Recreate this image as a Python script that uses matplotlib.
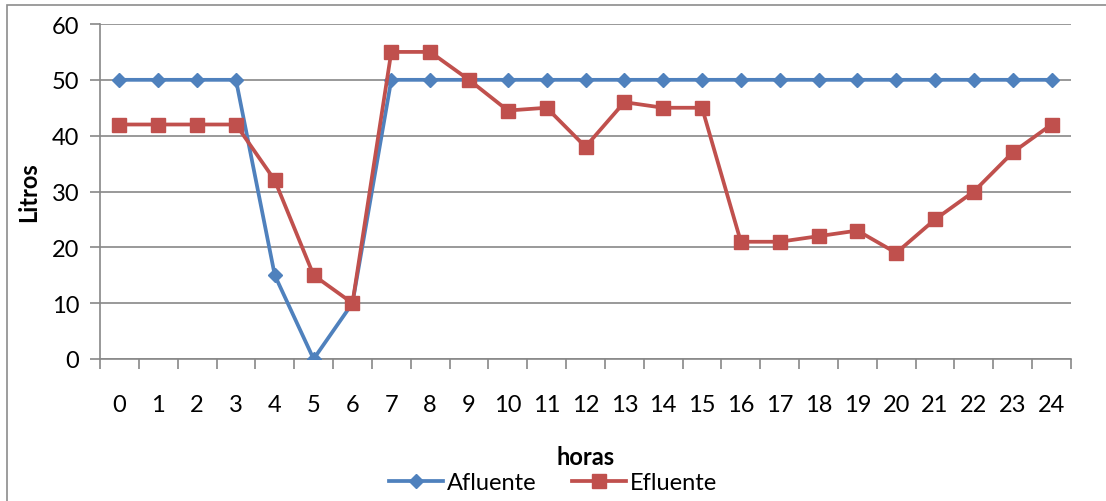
import matplotlib.pyplot as plt
import matplotlib.patches as mpatches
import numpy as np

plt.rcParams['font.family'] = ['Lato', 'DejaVu Sans']

horas = [str(h) for h in range(25)]
afluente = [50, 50, 50, 50, 15, 0, 10, 50, 50, 50, 50, 50, 50,
            50, 50, 50, 50, 50, 50, 50, 50, 50, 50, 50, 50]
efluente = [42, 42, 42, 42, 32, 15, 10, 55, 55, 50, 44.5, 45, 38,
            46, 45, 45, 21, 21, 22, 23, 19, 25, 30, 37, 42]

blue = '#4F81BD'
red = '#C0504D'
grid_c = '#888888'

fig = plt.figure(figsize=(11.06, 5.02), dpi=100)
# chart area border (cut off at right/bottom like the original)
fig.patches.append(mpatches.Rectangle((7 / 1106, -0.1), 1.2, 1 - 6 / 502 + 0.1,
                                      transform=fig.transFigure, fill=False,
                                      edgecolor='#8c8c8c', linewidth=1.2))

ax = fig.add_axes([100 / 1106, 1 - 360 / 502, 971 / 1106, 335 / 502])
x = np.arange(len(horas))

ax.plot(x, afluente, color=blue, lw=2.7, marker='D', ms=7, label='Afluente', zorder=3)
ax.plot(x, efluente, color=red, lw=2.7, marker='s', ms=10, label='Efluente', zorder=3)

ax.set_xlim(-0.5, len(horas) - 0.5)
ax.set_ylim(0, 60)
ax.set_yticks(range(0, 61, 10))
ax.yaxis.grid(True, color=grid_c, lw=1.2)
ax.set_axisbelow(True)

ax.set_xticks(x)
ax.set_xticklabels(horas)
ax.set_xticks(np.arange(-0.5, len(horas), 1), minor=True)
ax.tick_params(axis='x', which='major', length=0, pad=25, labelsize=17)
ax.tick_params(axis='x', which='minor', length=7, width=1.2, color=grid_c, direction='out')
ax.tick_params(axis='y', length=7, width=1.2, color=grid_c, labelsize=17, pad=8)

for s in ['top', 'right']:
    ax.spines[s].set_visible(False)
for s in ['left', 'bottom']:
    ax.spines[s].set_color(grid_c)
    ax.spines[s].set_linewidth(1.2)

ax.set_xlabel('horas', fontsize=17, fontweight='bold', labelpad=22)
ax.set_ylabel('Litros', fontsize=17, fontweight='bold', labelpad=8)

fig.legend(loc='center', bbox_to_anchor=(0.5, 1 - 484 / 502), ncol=2, frameon=False,
           fontsize=17, handlelength=2.3, handletextpad=0.15, columnspacing=1.5,
           borderpad=0)

fig.savefig('out.png', dpi=100)
